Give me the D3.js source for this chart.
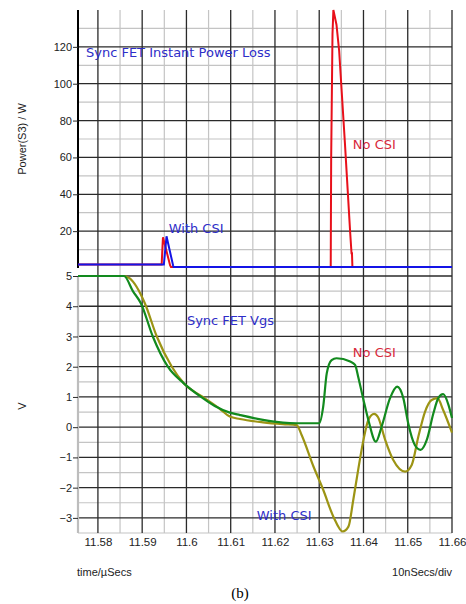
<!DOCTYPE html>
<html>
<head>
<meta charset="utf-8">
<script src="https://cdn.jsdelivr.net/npm/d3@7"></script>
<style>
  html, body { margin: 0; padding: 0; background: #fff; }
  svg { display: block; }
</style>
</head>
<body>
<svg id="chart" width="466" height="604"></svg>
<script>
// time axis (µs)
const timeTicks = [11.58, 11.59, 11.6, 11.61, 11.62, 11.63, 11.64, 11.65, 11.66];
const timeMinor = [11.585, 11.595, 11.605, 11.615, 11.625, 11.635, 11.645, 11.655];
const powerTicks = [20, 40, 60, 80, 100, 120];
const powerMinor = [10, 30, 50, 70, 90, 110, 130];
const voltTicks = [5, 4, 3, 2, 1, 0, -1, -2, -3];
const voltMinor = [4.5, 3.5, 2.5, 1.5, 0.5, -0.5, -1.5, -2.5, -3.5];

// Power(S3), no CSI (red)
const pNoT = [11.5755, 11.5944, 11.5946, 11.5947, 11.5963, 11.5965, 11.6326, 11.6327, 11.6330, 11.6332, 11.6339, 11.6345, 11.6358, 11.6370, 11.6373, 11.6374, 11.6375, 11.66];
const pNoV = [1.9, 1.9, 12, 16.7, 1.5, 0.5, 0.5, 60, 127, 140, 132, 118, 68, 19, 8, 8, 0.5, 0.5];
// Power(S3), with CSI (blue)
const pWithT = [11.5755, 11.5949, 11.5955, 11.5970, 11.5971, 11.66];
const pWithV = [1.9, 1.9, 17.2, 1.2, 0.5, 0.5];

// Vgs, no CSI (green)
const vNoT = [11.5755, 11.5859, 11.5879, 11.5897, 11.5924, 11.5958, 11.5994, 11.6033, 11.6064, 11.6098, 11.6121, 11.6173, 11.6218, 11.6249, 11.6300,
  11.6309, 11.6317, 11.6328, 11.6339, 11.6370, 11.6381, 11.6388, 11.6400, 11.6411, 11.6428, 11.6441, 11.6460, 11.6476, 11.6490,
  11.6501, 11.6516, 11.6529, 11.6543, 11.6558, 11.6569, 11.6580, 11.6592, 11.66];
const vNoV = [5, 5, 4.5, 4.1, 3.0, 2.0, 1.45, 1.0, 0.7, 0.48, 0.40, 0.24, 0.15, 0.13, 0.13,
  0.68, 1.78, 2.22, 2.28, 2.17, 2.06, 1.67, 0.9, 0.24, -0.48, 0.02, 0.96, 1.34, 0.96,
  0.13, -0.59, -0.75, -0.42, 0.46, 0.96, 1.09, 0.74, 0.30];
// Vgs, with CSI (olive)
const vWithT = [11.5755, 11.5859, 11.5872, 11.5906, 11.5933, 11.5967, 11.5994, 11.6037, 11.6076, 11.6098, 11.6121, 11.6173, 11.6218, 11.6249,
  11.6260, 11.6287, 11.6309, 11.6332, 11.6353, 11.6366, 11.6377, 11.6388, 11.6400, 11.6411, 11.6424, 11.6433, 11.6449,
  11.6467, 11.6494, 11.6509, 11.6524, 11.6539, 11.6554, 11.6567, 11.6580, 11.66];
const vWithV = [5, 5, 4.92, 4.1, 3.0, 2.0, 1.45, 1.0, 0.6, 0.35, 0.27, 0.16, 0.10, 0.07,
  -0.25, -1.30, -2.07, -2.96, -3.45, -3.29, -2.4, -1.41, -0.42, 0.24, 0.44, 0.33, -0.42,
  -1.08, -1.47, -1.25, -0.31, 0.51, 0.9, 0.96, 0.57, -0.18];

// annotations: [text, time, value, colour key]
const powerNotes = [["Sync FET Instant Power Loss", 11.5773, 114.5, "blue"], ["With CSI", 11.5960, 19, "blue"], ["No CSI", 11.6376, 64.6, "red"]];
const voltNotes = [["Sync FET Vgs", 11.6001, 3.38, "blue"], ["No CSI", 11.6376, 2.32, "red"], ["With CSI", 11.6159, -3.07, "blue"]];

const C = { red: "#e8101a", blue: "#1414e6", green: "#128a1e", olive: "#9c9414",
  noteBlue: "#2e2ec8", noteRed: "#d8283c", major: "#2a2a2a", minor: "#c4c4c4", ink: "#222" };

const svg = d3.select("#chart");
const L = 78, R = 452;
const x = d3.scaleLinear().domain([11.5755, 11.66]).range([L, R]);
const yP = d3.scaleLinear().domain([0, 140]).range([268, 10]);
const yV = d3.scaleLinear().domain([-3.5, 5]).range([533, 276]);

const grid = svg.append("g");
// vertical grid spans both panels
grid.selectAll("line.vmin").data(timeMinor).join("line")
  .attr("x1", d => x(d)).attr("x2", d => x(d)).attr("y1", 10).attr("y2", 533)
  .attr("stroke", C.minor).attr("stroke-width", 1.2);
// horizontal minor
grid.selectAll("line.pmin").data(powerMinor).join("line")
  .attr("x1", L).attr("x2", R).attr("y1", d => yP(d)).attr("y2", d => yP(d))
  .attr("stroke", C.minor).attr("stroke-width", 1.2);
grid.selectAll("line.vvmin").data(voltMinor).join("line")
  .attr("x1", L).attr("x2", R).attr("y1", d => yV(d)).attr("y2", d => yV(d))
  .attr("stroke", C.minor).attr("stroke-width", 1.2);
// majors
grid.selectAll("line.vmaj").data(timeTicks).join("line")
  .attr("x1", d => x(d)).attr("x2", d => x(d)).attr("y1", 10).attr("y2", 533)
  .attr("stroke", C.major).attr("stroke-width", 1.3);
grid.selectAll("line.pmaj").data(powerTicks).join("line")
  .attr("x1", L).attr("x2", R).attr("y1", d => yP(d)).attr("y2", d => yP(d))
  .attr("stroke", C.major).attr("stroke-width", 1.3);
grid.selectAll("line.vvmaj").data(voltTicks).join("line")
  .attr("x1", L).attr("x2", R).attr("y1", d => yV(d)).attr("y2", d => yV(d))
  .attr("stroke", C.major).attr("stroke-width", 1.3);
// left axis lines
grid.append("line").attr("x1", L).attr("x2", L).attr("y1", yP(140)).attr("y2", yP(0))
  .attr("stroke", "#000").attr("stroke-width", 2);
grid.append("line").attr("x1", L).attr("x2", L).attr("y1", yV(5)).attr("y2", yV(-3.5))
  .attr("stroke", "#bdbdbd").attr("stroke-width", 2.2);

// axes (ticks + labels)
function styleAxis(g) {
  g.select(".domain").remove();
  g.selectAll("line").attr("stroke", C.major);
  g.selectAll("text").attr("fill", C.ink).attr("font-family", "Liberation Sans, Arial, sans-serif").attr("font-size", 11);
}
svg.append("g").attr("transform", `translate(${L},0)`)
  .call(d3.axisLeft(yP).tickValues(powerTicks).tickSize(5).tickPadding(1)).call(styleAxis);
svg.append("g").attr("transform", `translate(${L},0)`)
  .call(d3.axisLeft(yV).tickValues(voltTicks).tickSize(5).tickPadding(1)).call(styleAxis);
svg.append("g").attr("transform", `translate(0,533)`)
  .call(d3.axisBottom(x).tickValues(timeTicks).tickSize(0).tickPadding(5).tickFormat(d3.format("~g"))).call(styleAxis)
  .selectAll("text").attr("font-size", 11.5);

// series
const line = (ys) => d3.line().x(d => x(d[0])).y(d => ys(d[1]));
const smooth = (ys) => d3.line().x(d => x(d[0])).y(d => ys(d[1])).curve(d3.curveMonotoneX);
const zip = (a, b) => a.map((t, i) => [t, b[i]]);

svg.append("path").attr("d", line(yP)(zip(pNoT, pNoV)))
  .attr("fill", "none").attr("stroke", C.red).attr("stroke-width", 2);
svg.append("path").attr("d", line(yP)(zip(pWithT, pWithV)))
  .attr("fill", "none").attr("stroke", C.blue).attr("stroke-width", 2);
svg.append("path").attr("d", smooth(yV)(zip(vWithT, vWithV)))
  .attr("fill", "none").attr("stroke", C.olive).attr("stroke-width", 2.2);
svg.append("path").attr("d", smooth(yV)(zip(vNoT, vNoV)))
  .attr("fill", "none").attr("stroke", C.green).attr("stroke-width", 2.2);

// annotations
const noteFont = "'DejaVu Sans', Verdana, sans-serif";
function notes(data, ys) {
  svg.append("g").selectAll("text").data(data).join("text")
    .attr("x", d => x(d[1])).attr("y", d => ys(d[2]))
    .attr("font-family", noteFont).attr("font-size", 13)
    .attr("fill", d => d[3] === "red" ? C.noteRed : C.noteBlue)
    .text(d => d[0]);
}
notes(powerNotes, yP);
notes(voltNotes, yV);

// axis titles
const sans = "Liberation Sans, Arial, sans-serif";
svg.append("text").attr("transform", `translate(26,${(yP(0) + yP(140)) / 2}) rotate(-90)`)
  .attr("text-anchor", "middle").attr("font-family", sans).attr("font-size", 11).attr("fill", C.ink)
  .text("Power(S3) / W");
svg.append("text").attr("transform", `translate(26,${yV(0.7)}) rotate(-90)`)
  .attr("text-anchor", "middle").attr("font-family", sans).attr("font-size", 11).attr("fill", C.ink)
  .text("V");
svg.append("text").attr("x", L - 1).attr("y", 576)
  .attr("font-family", sans).attr("font-size", 11).attr("fill", C.ink).text("time/\u00b5Secs");
svg.append("text").attr("x", R).attr("y", 576).attr("text-anchor", "end")
  .attr("font-family", sans).attr("font-size", 11).attr("fill", C.ink).text("10nSecs/div");
svg.append("text").attr("x", 240).attr("y", 598).attr("text-anchor", "middle")
  .attr("font-family", "Liberation Serif, 'Times New Roman', serif").attr("font-size", 15).attr("fill", "#000")
  .text("(b)");
</script>
</body>
</html>
